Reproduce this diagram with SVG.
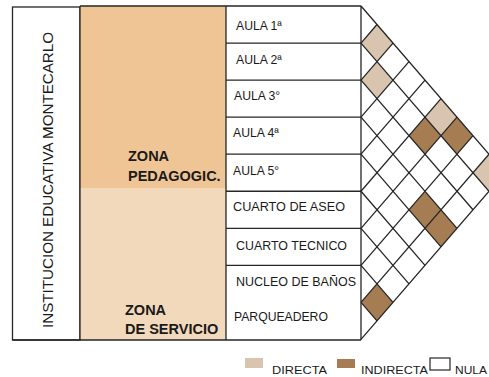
<svg xmlns="http://www.w3.org/2000/svg" width="489" height="377" viewBox="0 0 489 377">
<style>
.ln{stroke:#262626;stroke-width:1.3;fill:none}
.cell{fill:#ffffff;stroke:#262626;stroke-width:1.3}
.lbl{font-family:"Liberation Sans",Arial,sans-serif;font-size:12.2px;fill:#1a1a1a}
.zone{font-family:"Liberation Sans",Arial,sans-serif;font-size:14.5px;font-weight:bold;fill:#1a1a1a}
.dir{fill:#d9c4af}
.ind{fill:#a67d53}
.leg{font-family:"Liberation Sans",Arial,sans-serif;font-size:11.8px;fill:#1a1a1a}
</style>
<rect width="489" height="377" fill="#ffffff"/>

<g id="institucion">
<rect x="12.5" y="7" width="67.5" height="333" class="cell"/>
<text class="lbl" style="font-size:15.5px" transform="translate(52.5,180) rotate(-90)" text-anchor="middle" textLength="296" lengthAdjust="spacingAndGlyphs">INSTITUCION EDUCATIVA MONTECARLO</text>
</g>

<g id="zona-pedagogica">
<rect x="80" y="6" width="146" height="182" fill="#f0c595"/>
<text class="zone" x="128" y="160.5">ZONA</text>
<text class="zone" x="128" y="180.5">PEDAGOGIC.</text>
</g>

<g id="zona-servicio">
<rect x="80" y="188" width="146" height="152" fill="#f3d9bc"/>
<text class="zone" x="125" y="315">ZONA</text>
<text class="zone" x="125" y="334">DE SERVICIO</text>
</g>

<g id="zonas-borde">
<path class="ln" d="M80 6 V340 M226 6 V340 M80 6 H361 M12.5 340 H361 M361 6 V340"/>
</g>

<g id="aula1"><path class="ln" d="M226 43.05 H361"/><text class="lbl" x="236" y="30">AULA 1ª</text></g>
<g id="aula2"><path class="ln" d="M226 80.1 H361"/><text class="lbl" x="236" y="64">AULA 2ª</text></g>
<g id="aula3"><path class="ln" d="M226 117.15 H361"/><text class="lbl" x="234" y="100">AULA 3°</text></g>
<g id="aula4"><path class="ln" d="M226 154.2 H361"/><text class="lbl" x="233" y="137">AULA 4ª</text></g>
<g id="aula5"><path class="ln" d="M226 191.25 H361"/><text class="lbl" x="233" y="174.5">AULA 5°</text></g>
<g id="cuarto-aseo"><path class="ln" d="M226 228.3 H361"/><text class="lbl" x="233" y="211" textLength="112" lengthAdjust="spacingAndGlyphs">CUARTO DE ASEO</text></g>
<g id="cuarto-tecnico"><path class="ln" d="M226 265.35 H361"/><text class="lbl" x="236" y="250" textLength="111" lengthAdjust="spacingAndGlyphs">CUARTO TECNICO</text></g>
<g id="nucleo-banos"><text class="lbl" x="236" y="286" textLength="120" lengthAdjust="spacingAndGlyphs">NUCLEO DE BAÑOS</text></g>
<g id="parqueadero"><text class="lbl" x="234" y="320.5">PARQUEADERO</text></g>

<g id="relaciones">
<polygon class="dir" points="361,43.05 377,24.525 393,43.05 377,61.575"/>
<polygon class="dir" points="361,80.1 377,61.575 393,80.1 377,98.625"/>
<polygon class="dir" points="425,117.15 441,98.625 457,117.15 441,135.675"/>
<polygon class="ind" points="409,135.675 425,117.15 441,135.675 425,154.2"/>
<polygon class="ind" points="441,135.675 457,117.15 473,135.675 457,154.2"/>
<polygon class="dir" points="473,172.725 489,154.2 505,172.725 489,191.25"/>
<polygon class="ind" points="409,209.775 425,191.25 441,209.775 425,228.3"/>
<polygon class="ind" points="425,228.3 441,209.775 457,228.3 441,246.825"/>
<polygon class="ind" points="361,302.4 377,283.875 393,302.4 377,320.925"/>
</g>

<g id="connectors">
<path class="ln" d="M361 6 L505 172.725 M361 43.05 L489 191.25 M361 80.1 L473 209.775 M361 117.15 L457 228.3 M361 154.2 L441 246.825 M361 191.25 L425 265.35 M361 228.3 L409 283.875 M361 265.35 L393 302.4 M361 302.4 L377 320.925"/>
<path class="ln" d="M361 43.05 L377 24.525 M361 80.1 L393 43.05 M361 117.15 L409 61.575 M361 154.2 L425 80.1 M361 191.25 L441 98.625 M361 228.3 L457 117.15 M361 265.35 L473 135.675 M361 302.4 L489 154.2 M361 339.45 L505 172.725"/>
</g>

<g id="leyenda">
<rect x="245" y="358" width="18" height="10" class="dir"/>
<text class="leg" x="272" y="373.5" textLength="55" lengthAdjust="spacingAndGlyphs">DIRECTA</text>
<rect x="337" y="359" width="18" height="9" class="ind"/>
<text class="leg" x="361" y="373.5" textLength="67" lengthAdjust="spacingAndGlyphs">INDIRECTA</text>
<rect x="430" y="358" width="20" height="12" fill="#ffffff" stroke="#262626" stroke-width="1.2"/>
<text class="leg" x="455" y="373.5" textLength="32" lengthAdjust="spacingAndGlyphs">NULA</text>
</g>
</svg>
